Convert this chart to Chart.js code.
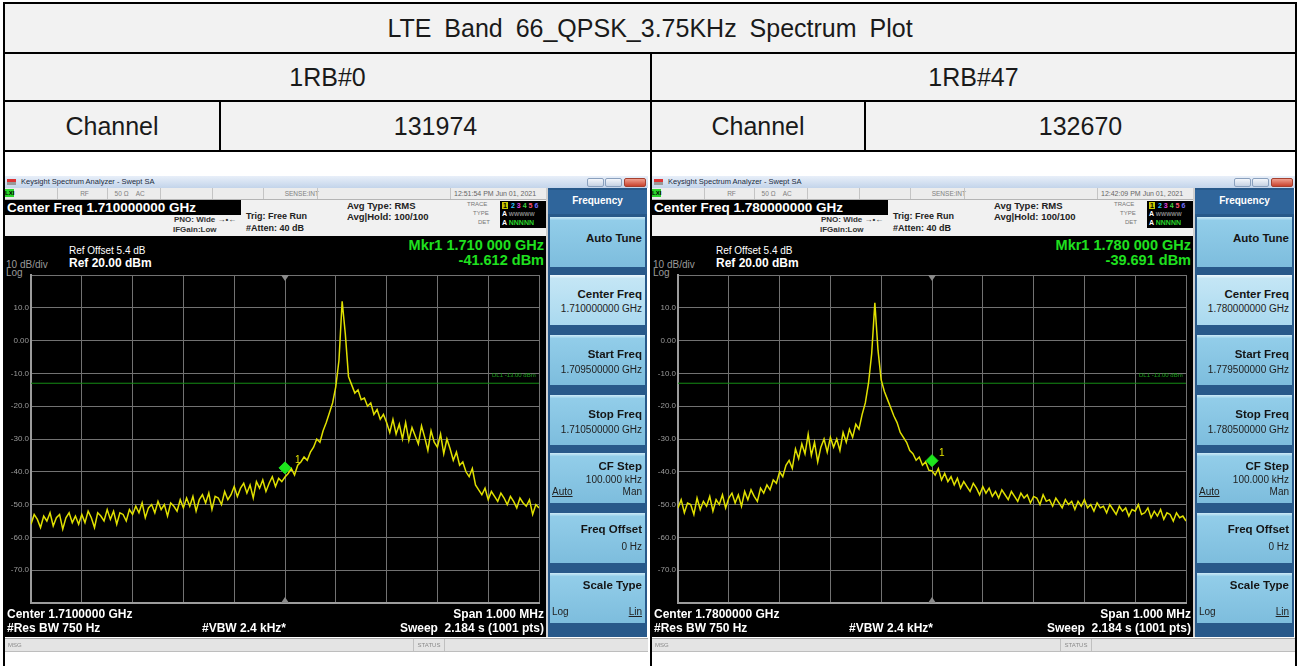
<!DOCTYPE html>
<html>
<head>
<meta charset="utf-8">
<script src="https://cdn.jsdelivr.net/npm/chart.js@4.4.0/dist/chart.umd.min.js"></script>
<style>
body{margin:0;background:#fff;font-family:"Liberation Sans",Arial,sans-serif;}
#page{position:relative;width:1298px;height:666px;overflow:hidden;background:#fff;}
.cell{position:absolute;background:#f2f2f2;display:flex;align-items:center;justify-content:center;font-size:25px;color:#1a1a1a;}
.ln{position:absolute;background:#000;}
.sa{position:absolute;top:176px;width:643px;height:490px;overflow:hidden;background:#fff;}
.sa div,.sa span{position:absolute;white-space:nowrap;}
.tb{left:0;top:0;width:643px;height:12px;background:linear-gradient(#e8eff9,#c3d4ea);font-size:7.5px;line-height:12px;color:#1c2b40;}
.ico{left:2px;top:3px;width:9px;height:6px;background:linear-gradient(#d33 0,#d33 50%,#999 50%);}
.wb{top:2px;height:9px;width:17px;border:1px solid #8aa0bd;border-radius:2px;background:linear-gradient(#f3f6fb,#c6d2e3);box-sizing:border-box;}
.st{left:0;top:12px;width:542px;height:11px;background:#ececec;border-bottom:1px solid #b4b4b4;font-size:6.5px;color:#808080;line-height:11px;}
.st span{top:0;height:11px;border-left:1px solid #c4c4c4;padding-left:3px;}
.hd{left:0;top:24px;width:542px;height:36px;background:#f1f1f1;}
.cf{left:0;top:24px;width:234px;height:15px;background:#000;color:#fff;font-weight:bold;font-size:13.5px;line-height:15px;padding-left:2px;}
.sm{font-size:8px;font-weight:bold;color:#333;}
.hb{font-size:9px;font-weight:bold;color:#222;}
.tr{left:495px;top:25px;width:46px;height:27px;background:#000;font-size:7px;font-weight:bold;}
.tl{font-size:6px;color:#777;}
.blk{left:0;top:60px;width:541px;height:401px;background:#000;}
.sep{left:541px;top:12px;width:2px;height:449px;background:#d0d0d0;}
.sk{left:543px;top:12px;width:99px;height:449px;background:#28598a;}
.skh{left:0;top:2px;width:99px;height:24px;background:#2f659b;color:#fff;font-weight:bold;font-size:10px;text-align:center;line-height:22px;}
.key{left:2px;width:95px;height:50px;background:linear-gradient(#cdeaf7 0,#92cde9 7%,#7dbddd 100%);}
.key.sel{background:linear-gradient(#eef8fd 0,#c4e6f5 7%,#aad9ef 100%);}
.kt{right:3px;font-weight:bold;font-size:11.5px;line-height:12px;color:#151515;}
.kv{right:3px;font-size:10px;line-height:10px;color:#222;}
.ka{left:2px;font-size:10px;line-height:10px;color:#222;}
.ka.u{text-decoration:underline;}
.wt{color:#fff;font-weight:bold;font-size:12px;line-height:13px;}
.gy{color:#9a9a9a;font-size:10px;line-height:10px;}
.mk{right:104px;color:#1fe01f;font-weight:bold;font-size:14.5px;line-height:15px;}
.msg{left:0;top:462px;width:643px;height:12px;background:#e4e4e4;border-top:1px solid #a8a8a8;border-bottom:1px solid #bdbdbd;font-size:6px;color:#8a8a8a;line-height:12px;}
canvas{position:absolute;left:0;top:92px;}
</style>
</head>
<body>
<div id="page">
  <div class="cell" style="left:5px;top:4px;width:1290px;height:48px;word-spacing:6px;" id="title"></div>
  <div class="cell" style="left:5px;top:54px;width:645px;height:46px;" id="rbA"></div>
  <div class="cell" style="left:652px;top:54px;width:643px;height:46px;" id="rbB"></div>
  <div class="cell" style="left:5px;top:102px;width:214px;height:48px;" id="chA"></div>
  <div class="cell" style="left:221px;top:102px;width:429px;height:48px;" id="chvA"></div>
  <div class="cell" style="left:652px;top:102px;width:212px;height:48px;" id="chB"></div>
  <div class="cell" style="left:866px;top:102px;width:429px;height:48px;" id="chvB"></div>

  <div class="sa" id="panelA" style="left:5px;"></div>
  <div class="sa" id="panelB" style="left:652px;"></div>

  <div class="ln" style="left:3px;top:2px;width:1294px;height:2px;"></div>
  <div class="ln" style="left:3px;top:52px;width:1294px;height:2px;"></div>
  <div class="ln" style="left:3px;top:100px;width:1294px;height:2px;"></div>
  <div class="ln" style="left:3px;top:150px;width:1294px;height:2px;"></div>
  <div class="ln" style="left:3px;top:2px;width:2px;height:664px;"></div>
  <div class="ln" style="left:650px;top:52px;width:2px;height:614px;"></div>
  <div class="ln" style="left:219px;top:100px;width:2px;height:52px;"></div>
  <div class="ln" style="left:864px;top:100px;width:2px;height:52px;"></div>
  <div class="ln" style="left:1295px;top:2px;width:2px;height:664px;"></div>
</div>
<script>
// table texts
var tableTitle = "LTE Band 66_QPSK_3.75KHz Spectrum Plot";
var rbLabels = ["1RB#0", "1RB#47"];
var channelLabel = "Channel";
var channels = ["131974", "132670"];

// sweep: 1.000 MHz span around centre, offsets in kHz
var sweepStartKHz = -500;
var sweepStopKHz = 500;
var refLevelDbm = 20;
var bottomLevelDbm = -80;
var yTickValues = [10, 0, -10, -20, -30, -40, -50, -60, -70];
var displayLineDbm = -13;

// trace levels (dBm), evenly spaced across the sweep
var rb0Levels = [
  -56, -53, -54.5, -57, -53.5, -55, -52.5, -56.5, -54, -53, -57.5, -54, -52.5, -55.5, -53.5, -56,
  -53, -55.5, -52, -54, -57, -52.5, -53.5, -55, -51.5, -54.5, -52, -56, -52.5, -53, -55, -51.5,
  -53, -50.5, -52.5, -49.5, -54, -51, -50, -52.5, -49, -51.5, -50, -53.5, -49.5, -50.5, -52, -48.5,
  -51, -48, -50.5, -47.5, -52, -48.5, -47, -49.5, -46.5, -51.5, -47.5, -48, -50, -46, -48.5, -47,
  -44.5, -47.5, -45, -43.5, -46.5, -44, -48, -43, -45, -42.5, -46, -43.5, -41.5, -44.5, -42, -43,
  -41.6,
  -40.5, -39, -41, -38, -37, -35.5, -36.5, -34, -32.5, -30, -31, -27.5, -25, -22, -19, -14, -6,
  12,
  2, -11, -13.5, -16, -15, -18, -17.5, -20, -19, -22.5, -21, -24, -22.5,
  -25, -28, -24, -28.5, -25.5, -30, -25, -30.5, -26.5, -29, -31.5, -26, -29.5, -33.5, -27.5, -31, -32.5, -28.5, -34.5, -30,
  -33, -36.5, -34, -38, -37, -40, -41.5, -39, -44,
  -45.5, -47, -45, -48.5, -46, -47.5, -49, -46.5, -48, -50, -47.5, -49, -51, -48, -49.5, -50.5, -48.5, -53, -50, -51
];
var rb47Levels = [
  -51, -48.5, -52.5, -49.5, -50, -53, -48, -51.5, -49, -50.5, -47.5, -52, -48.5, -50, -47, -51,
  -48, -46.5, -49.5, -47, -50.5, -46, -48.5, -45.5, -47.5, -49, -45, -46.5, -44, -45.5, -42.5, -43.5,
  -40, -41.5, -38, -36.5, -39, -33, -36, -31.5, -34.5, -28.5, -35, -31, -37, -32.5, -30, -34,
  -29.5, -32.5, -30, -33.5, -28, -31, -27, -29.5, -25.5, -27, -22.5, -19, -13, -4,
  11.5,
  -3, -12, -15.5, -18, -20.5, -23, -25, -28, -29.5, -31, -33.5, -34.5, -36.5, -35.5, -38, -37, -39.5,
  -39.7,
  -41, -39, -42.5, -40.5, -43, -41.5, -44, -42, -45, -43, -44.5, -46, -43.5, -45, -47, -44.5, -46.5, -45, -47.5, -46,
  -48, -45.5, -47, -48.5, -46, -47.5, -49, -46.5, -48, -47, -49.5, -47.5, -48, -50, -47, -49, -48.5, -50.5, -48, -49.5,
  -51, -48.5, -50, -49, -51.5, -49, -50.5, -48.5, -51, -50,
  -52, -49.5, -51, -50.5, -52.5, -50, -51.5, -53, -50.5, -52, -51, -53.5, -51.5, -52, -50, -53, -52.5, -51, -54, -52,
  -53.5, -51.5, -54.5, -52.5, -53, -55, -52.5, -54, -53.5, -55
];
// marker 1 diamond (at centre frequency)
var rb0MarkerDbm = -38.8;
var rb47MarkerDbm = -36.6;

var panels = [
  {id: "panelA", canvas: "specA", levels: rb0Levels, marker: rb0MarkerDbm,
   center: "1.710000000", start: "1.709500000", stop: "1.710500000", centerShort: "1.7100000",
   mkrFreq: "1.710 000", mkrVal: "-41.612", time: "12:51:54 PM Jun 01, 2021", oneX: 290, oneY: 278},
  {id: "panelB", canvas: "specB", levels: rb47Levels, marker: rb47MarkerDbm,
   center: "1.780000000", start: "1.779500000", stop: "1.780500000", centerShort: "1.7800000",
   mkrFreq: "1.780 000", mkrVal: "-39.691", time: "12:42:09 PM Jun 01, 2021", oneX: 287, oneY: 271}
];

function buildPanel(p) {
  var keys = [
    {t: "Auto Tune", top: 29, tt: 15},
    {t: "Center Freq", v: p.center + " GHz", top: 87, tt: 13, vt: 29, sel: true},
    {t: "Start Freq", v: p.start + " GHz", top: 147, tt: 13, vt: 30},
    {t: "Stop Freq", v: p.stop + " GHz", top: 207, tt: 13, vt: 30},
    {t: "CF Step", v: "100.000 kHz", a: "Auto", m: "Man", top: 265, tt: 7, vt: 22, at: 34},
    {t: "Freq Offset", v: "0 Hz", top: 325, tt: 10, vt: 29},
    {t: "Scale Type", a: "Log", m: "Lin", top: 385, tt: 6, at: 34, logLin: true}
  ];
  var h = "";
  h += '<div class="tb"><div class="ico"></div><span style="left:16px;top:0">Keysight Spectrum Analyzer - Swept SA</span>' +
       '<div class="wb" style="left:582px"></div><div class="wb" style="left:600px"></div>' +
       '<div class="wb" style="left:619px;width:22px;background:linear-gradient(#f0a090,#c9432e);border-color:#a5402f"></div></div>';
  h += '<div class="st"><span style="left:0;border:none;padding:0;top:1px;width:9px;height:8px;background:#2bd42b;color:#000;font-weight:bold;font-size:6px;line-height:8px">LXI</span>' +
       '<span style="left:52px;width:47px;text-align:center">RF</span>' +
       '<span style="left:102px;width:50px">&nbsp;&nbsp;50 &Omega;&nbsp;&nbsp;&nbsp;&nbsp;AC</span>' +
       '<span style="left:155px;width:50px"></span><span style="left:207px;width:50px"></span>' +
       '<span style="left:258px;width:52px;text-align:right;padding-right:2px">SENSE:INT</span>' +
       '<span style="left:312px;width:130px"></span>' +
       '<span style="left:445px;width:95px;color:#666;font-size:7px">' + p.time + '</span></div>';
  h += '<div class="hd"></div>';
  h += '<div class="cf">Center Freq ' + p.center + ' GHz</div>';
  h += '<span class="sm" style="left:169px;top:39px">PNO: Wide &#8594;&#8226;&#8592;</span>';
  h += '<span class="sm" style="left:168px;top:49px">IFGain:Low</span>';
  h += '<span class="hb" style="left:241px;top:35px">Trig: Free Run</span>';
  h += '<span class="hb" style="left:241px;top:47px">#Atten: 40 dB</span>';
  h += '<span class="hb" style="left:342px;top:24px;font-size:9.5px">Avg Type: RMS</span>';
  h += '<span class="hb" style="left:342px;top:35px;font-size:9.5px">Avg|Hold: 100/100</span>';
  h += '<span class="tl" style="left:462px;top:25px">TRACE</span><span class="tl" style="left:468px;top:34px">TYPE</span><span class="tl" style="left:473px;top:43px">DET</span>';
  h += '<div class="tr"><span style="left:2px;top:1px;width:6px;height:7px;background:#c8c800;color:#000;text-align:center;line-height:7px">1</span>' +
       '<span style="left:11px;top:1px;line-height:8px;word-spacing:0">' +
       '<span style="position:static;color:#2cc7ff">2</span> <span style="position:static;color:#e040e0">3</span> <span style="position:static;color:#40d040">4</span> <span style="position:static;color:#ff5070">5</span> <span style="position:static;color:#7070ff">6</span></span>' +
       '<span style="left:2px;top:9px;color:#fff;line-height:8px">A <span style="position:static;color:#888;font-size:5.5px">WWWWW</span></span>' +
       '<span style="left:2px;top:18px;color:#fff;line-height:8px">A <span style="position:static;color:#2bd42b">NNNNN</span></span></div>';
  h += '<div class="blk"></div><div class="sep"></div>';
  h += '<span class="wt" style="left:64px;top:70px;font-weight:normal;font-size:10px;line-height:10px">Ref Offset 5.4 dB</span>';
  h += '<span class="wt" style="left:64px;top:81px;font-size:12px;line-height:12px">Ref 20.00 dBm</span>';
  h += '<span class="gy" style="left:1px;top:84px">10 dB/div</span>';
  h += '<span class="gy" style="left:1px;top:92px">Log</span>';
  h += '<span class="mk" style="top:62px">Mkr1 ' + p.mkrFreq + ' GHz</span>';
  h += '<span class="mk" style="top:77px">' + p.mkrVal + ' dBm</span>';
  h += '<canvas id="' + p.canvas + '" width="541" height="342"></canvas>';
  h += '<span style="left:' + p.oneX + 'px;top:' + p.oneY + 'px;color:#e2e200;font-size:10px">1</span>';
  h += '<span style="left:487px;top:196px;color:#1aa01a;font-size:6px">DL1 -13.00 dBm</span>';
  h += '<span class="wt" style="left:2px;top:432px">Center ' + p.centerShort + ' GHz</span>';
  h += '<span class="wt" style="left:2px;top:446px">#Res BW 750 Hz</span>';
  h += '<span class="wt" style="left:197px;top:446px">#VBW 2.4 kHz*</span>';
  h += '<span class="wt" style="right:104px;top:432px">Span 1.000 MHz</span>';
  h += '<span class="wt" style="right:104px;top:446px">Sweep&nbsp;&nbsp;2.184 s (1001 pts)</span>';
  h += '<div class="sk"><div class="skh">Frequency</div>';
  keys.forEach(function (k) {
    h += '<div class="key' + (k.sel ? ' sel' : '') + '" style="top:' + k.top + 'px">';
    h += '<span class="kt" style="top:' + k.tt + 'px">' + k.t + '</span>';
    if (k.v) h += '<span class="kv" style="top:' + k.vt + 'px">' + k.v + '</span>';
    if (k.a) {
      h += '<span class="ka' + (k.logLin ? '' : ' u') + '" style="top:' + k.at + 'px">' + k.a + '</span>';
      h += '<span class="kv" style="top:' + k.at + 'px;' + (k.logLin ? 'text-decoration:underline' : '') + '">' + k.m + '</span>';
    }
    h += '</div>';
  });
  h += '</div>';
  h += '<div class="msg"><span style="left:3px;top:0">MSG</span><span style="left:408px;top:0;width:30px;text-align:center;border-left:1px solid #c0c0c0;border-right:1px solid #c0c0c0">STATUS</span></div>';
  document.getElementById(p.id).innerHTML = h;
}

var centerMarkPlugin = {
  id: "centerMark",
  afterDatasetsDraw: function (chart) {
    var c = chart.ctx, a = chart.chartArea, x = chart.scales.x.getPixelForValue(0);
    c.save();
    c.fillStyle = "#8a8a8a";
    c.beginPath(); c.moveTo(x - 4, a.top); c.lineTo(x + 4, a.top); c.lineTo(x, a.top + 6); c.fill();
    c.beginPath(); c.moveTo(x - 4, a.bottom); c.lineTo(x + 4, a.bottom); c.lineTo(x, a.bottom - 6); c.fill();
    c.restore();
  }
};

function spectrumChart(p) {
  var n = p.levels.length;
  var pts = p.levels.map(function (v, i) {
    return {x: sweepStartKHz + i * (sweepStopKHz - sweepStartKHz) / (n - 1), y: v};
  });
  return new Chart(document.getElementById(p.canvas), {
    type: "line",
    data: {
      datasets: [
        {data: [{x: 0, y: p.marker}], showLine: false, pointStyle: "rectRot", pointRadius: 6,
         pointBackgroundColor: "#1de61d", pointBorderColor: "#1de61d", order: 0},
        {data: pts, borderColor: "#e0e000", borderWidth: 1.5, pointRadius: 0, tension: 0, order: 1},
        {data: [{x: sweepStartKHz, y: displayLineDbm}, {x: sweepStopKHz, y: displayLineDbm}],
         borderColor: "#158c15", borderWidth: 1, pointRadius: 0, order: 2}
      ]
    },
    options: {
      responsive: false,
      animation: false,
      layout: {padding: {top: 6, right: 2, bottom: 3, left: 0}},
      plugins: {legend: {display: false}, tooltip: {enabled: false}},
      scales: {
        x: {
          type: "linear", min: sweepStartKHz, max: sweepStopKHz,
          ticks: {display: false, stepSize: 100},
          grid: {color: "#727272", drawTicks: false},
          border: {color: "#9c9c9c", width: 2},
          afterFit: function (s) { s.height = 0; }
        },
        y: {
          min: bottomLevelDbm, max: refLevelDbm,
          ticks: {
            stepSize: 10, color: "#9a9a9a", padding: 2,
            font: {size: 8, family: "Liberation Sans"},
            callback: function (v) {
              if (yTickValues.indexOf(v) < 0) return "";
              return v === 0 ? "0.00" : v.toFixed(1);
            }
          },
          grid: {color: "#727272", drawTicks: false},
          border: {color: "#9c9c9c", width: 2},
          afterFit: function (s) { s.width = 26; }
        }
      }
    },
    plugins: [centerMarkPlugin]
  });
}

window.onload = function () {
  document.getElementById("title").textContent = tableTitle;
  document.getElementById("rbA").textContent = rbLabels[0];
  document.getElementById("rbB").textContent = rbLabels[1];
  document.getElementById("chA").textContent = channelLabel;
  document.getElementById("chB").textContent = channelLabel;
  document.getElementById("chvA").textContent = channels[0];
  document.getElementById("chvB").textContent = channels[1];
  panels.forEach(function (p) {
    buildPanel(p);
    spectrumChart(p);
  });
};
</script>
</body>
</html>
